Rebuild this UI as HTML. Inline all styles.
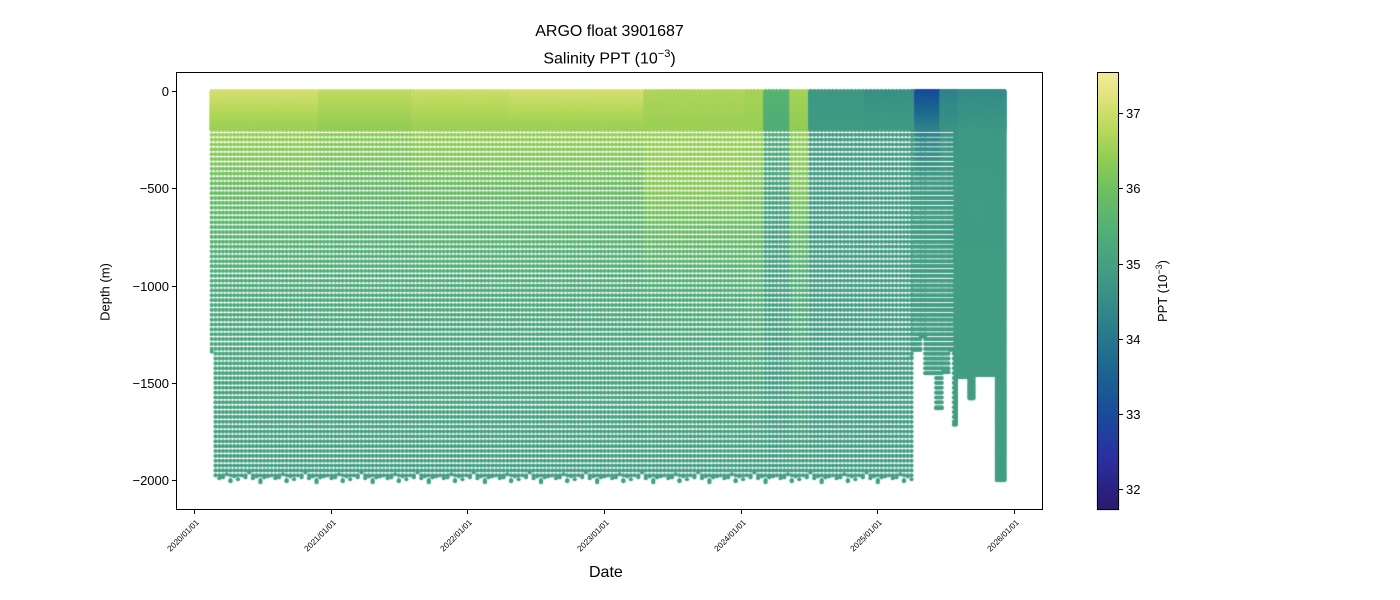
<!DOCTYPE html>
<html><head><meta charset="utf-8">
<style>
body{margin:0;background:#fff;font-family:"Liberation Sans",sans-serif;}
#wrap{position:relative;width:1400px;height:600px;overflow:hidden;}
.t{position:absolute;color:#000;white-space:nowrap;}
</style></head>
<body>
<div id="wrap">
<div class="t" style="left:0;width:1219px;text-align:center;top:21px;font-size:16px;line-height:22px">ARGO float 3901687<br>Salinity PPT (10<sup style="font-size:11px">−3</sup>)</div>
<canvas id="cv" width="1400" height="600" style="position:absolute;left:0;top:0"></canvas>
<svg id="ax" width="1400" height="600" style="position:absolute;left:0;top:0"></svg>
<div class="t" style="left:589px;top:564px;font-size:16px">Date</div>
<div class="t" style="left:105px;top:292px;font-size:13px;transform:translate(-50%,-50%) rotate(-90deg)">Depth (m)</div>
<div class="t" style="left:1162px;top:291px;font-size:13px;transform:translate(-50%,-50%) rotate(-90deg)">PPT (10<sup style="font-size:9px">−3</sup>)</div>
</div>
<script>
// ---- data ----
const segStart = [2020.13, 2020.9, 2021.6, 2022.3, 2023.30, 2024.02, 2024.17, 2024.36, 2024.50, 2024.9, 2025.28, 2025.47, 2025.60];
const segSurface = [37.1, 36.9, 37.0, 37.1, 36.7, 36.6, 35.6, 36.6, 34.8, 34.6, 33.0, 34.3, 34.5];
const seg200 = [36.5, 36.4, 36.5, 36.5, 36.5, 36.5, 35.4, 36.4, 34.9, 34.9, 34.3, 34.7, 34.8];
const seg500 = [35.9, 35.8, 35.9, 35.9, 36.3, 36.2, 35.1, 36.2, 34.95, 34.95, 34.9, 34.9, 34.9];
const seg1000 = [35.3, 35.3, 35.3, 35.3, 35.4, 35.5, 35.0, 35.4, 34.95, 34.95, 34.95, 34.95, 34.95];
const seg2000 = [34.95, 34.95, 34.95, 34.95, 34.95, 34.95, 34.95, 34.95, 34.95, 34.95, 34.95, 34.95, 34.95];
const depthLevels = [0, 200, 500, 1000, 2000];
const depthWobble = [1980, 1975, 1990, 1985, 1970, 2005, 1980, 1995, 1975, 1985, 1960, 1990, 1980, 2010, 1985];
const lateStarts = [2025.25, 2025.26, 2025.32, 2025.35, 2025.43, 2025.48, 2025.53, 2025.56, 2025.58, 2025.675, 2025.71, 2025.875, 2025.935];
const lateDepth = [1370, 1330, 1260, 1450, 1630, 1445, 1330, 1715, 1470, 1580, 1460, 2000, 0];
const firstDepth = 1340;
const xTicks = ["2020/01/01","2021/01/01","2022/01/01","2023/01/01","2024/01/01","2025/01/01","2026/01/01"];
const xTickYears = [2020,2021,2022,2023,2024,2025,2026];
const yTicks = [0,-500,-1000,-1500,-2000];
const cbTicks = [32,33,34,35,36,37];
const cmapVals = [31.7, 32.4, 33.0, 33.6, 34.2, 34.7, 35.0, 35.5, 36.0, 36.4, 36.8, 37.2, 37.55];
const cmapCols = ["#2a186c","#2b2fa0","#1a4c9a","#1d6690","#2e808b","#3d9586","#45a083","#55b176","#70c062","#92cd55","#b9d95c","#e0e27c","#f4ec9a"];
// ---- scales ----
const PL=176,PR=1043,PT=72,PB=510;
const xs=y=>194+(y-2020)*136.67;
const ys=d=>91+d*0.1946;
const CB={x:1097,w:22,t:72,b:510,min:31.72,max:37.55};
const cbY=v=>CB.b-(v-CB.min)/(CB.max-CB.min)*(CB.b-CB.t);
function hex(c){return [parseInt(c.slice(1,3),16),parseInt(c.slice(3,5),16),parseInt(c.slice(5,7),16)];}
function cmap(v){
  if(v<=cmapVals[0])return cmapCols[0];
  for(let i=1;i<cmapVals.length;i++){if(v<=cmapVals[i]){const f=(v-cmapVals[i-1])/(cmapVals[i]-cmapVals[i-1]);const a=hex(cmapCols[i-1]),b=hex(cmapCols[i]);return `rgb(${a.map((q,k)=>Math.round(q+(b[k]-q)*f)).join(',')})`;}}
  return cmapCols[cmapCols.length-1];
}
function segIdx(t){let s=0;for(let i=0;i<segStart.length;i++)if(t>=segStart[i])s=i;return s;}
function sal(t,d){
  const s=segIdx(t);const prof=[segSurface[s],seg200[s],seg500[s],seg1000[s],seg2000[s]];
  for(let i=1;i<depthLevels.length;i++){if(d<=depthLevels[i]){const f=(d-depthLevels[i-1])/(depthLevels[i]-depthLevels[i-1]);return prof[i-1]+(prof[i]-prof[i-1])*f;}}
  return prof[prof.length-1];
}
// ---- profiles ----
const profiles=[];
let k=0;
const step=10/365.25;
for(let t=segStart[0];t<lateStarts[0];t+=step){profiles.push({t,max:k===0?firstDepth:depthWobble[k%depthWobble.length]});k++;}
for(let i=0;i<lateStarts.length-1;i++){
  for(let t=lateStarts[i];t<lateStarts[i+1];t+=step*0.5)profiles.push({t,max:lateDepth[i]});
}
const cv=document.getElementById('cv');const ctx=cv.getContext('2d');
ctx.save();ctx.beginPath();ctx.rect(PL,PT,PR-PL,PB-PT);ctx.clip();
profiles.forEach(p=>{
  const x=xs(p.t);const dense=p.t>=2025.57;
  const lv=[];
  for(let d=0;d<=200;d+=2)lv.push(d);
  for(let d=dense?204:225;d<=p.max;d+=dense?4:25)lv.push(d);
  if(lv[lv.length-1]<p.max)lv.push(p.max);
  lv.forEach(d=>{ctx.fillStyle=cmap(sal(p.t,d));ctx.beginPath();ctx.arc(x,ys(d),2.1,0,Math.PI*2);ctx.fill();});
});
ctx.restore();
for(let y=CB.t;y<CB.b;y++){ctx.fillStyle=cmap(CB.min+(CB.b-y-0.5)/(CB.b-CB.t)*(CB.max-CB.min));ctx.fillRect(CB.x,y,CB.w,1);}
// ---- axes svg ----
const svg=document.getElementById('ax');const NS='http://www.w3.org/2000/svg';
function el(tag,attrs){const e=document.createElementNS(NS,tag);for(const a in attrs)e.setAttribute(a,attrs[a]);svg.appendChild(e);return e;}
const frame=el('rect',{x:PL+0.5,y:PT+0.5,width:PR-PL-1,height:PB-PT-1,fill:'none',stroke:'#000','stroke-width':1});


const cbf=el('rect',{x:CB.x+0.5,y:CB.t+0.5,width:CB.w-1,height:CB.b-CB.t-1,fill:'none',stroke:'#000','stroke-width':1});


xTicks.forEach((lab,i)=>{
  const x=Math.round(xs(xTickYears[i]))+0.5;
  const l=el('line',{x1:x,x2:x,y1:PB,y2:PB+4,stroke:'#000'});
  
  
  const t=el('text',{x:x+5,y:PB+13,'font-size':8.2,'text-anchor':'end',transform:`rotate(-45 ${x+5} ${PB+13})`,'font-family':'Liberation Sans, sans-serif'});
  t.textContent=lab;
  
  
});
yTicks.forEach(v=>{
  const y=Math.round(ys(-v))+0.5;
  const l=el('line',{x1:PL-4,x2:PL,y1:y,y2:y,stroke:'#000'});
  
  
  const t=el('text',{x:PL-7,y:y+4.5,'font-size':13,'text-anchor':'end','font-family':'Liberation Sans, sans-serif'});
  t.textContent=v===0?'0':'−'+(-v);
  
  
});
cbTicks.forEach(v=>{
  const y=Math.round(cbY(v))+0.5;
  const l=el('line',{x1:CB.x+CB.w,x2:CB.x+CB.w+4,y1:y,y2:y,stroke:'#000'});
  
  
  const t=el('text',{x:CB.x+CB.w+7,y:y+4.5,'font-size':13,'font-family':'Liberation Sans, sans-serif'});
  t.textContent=v;
  
  
});
</script>
</body></html>
